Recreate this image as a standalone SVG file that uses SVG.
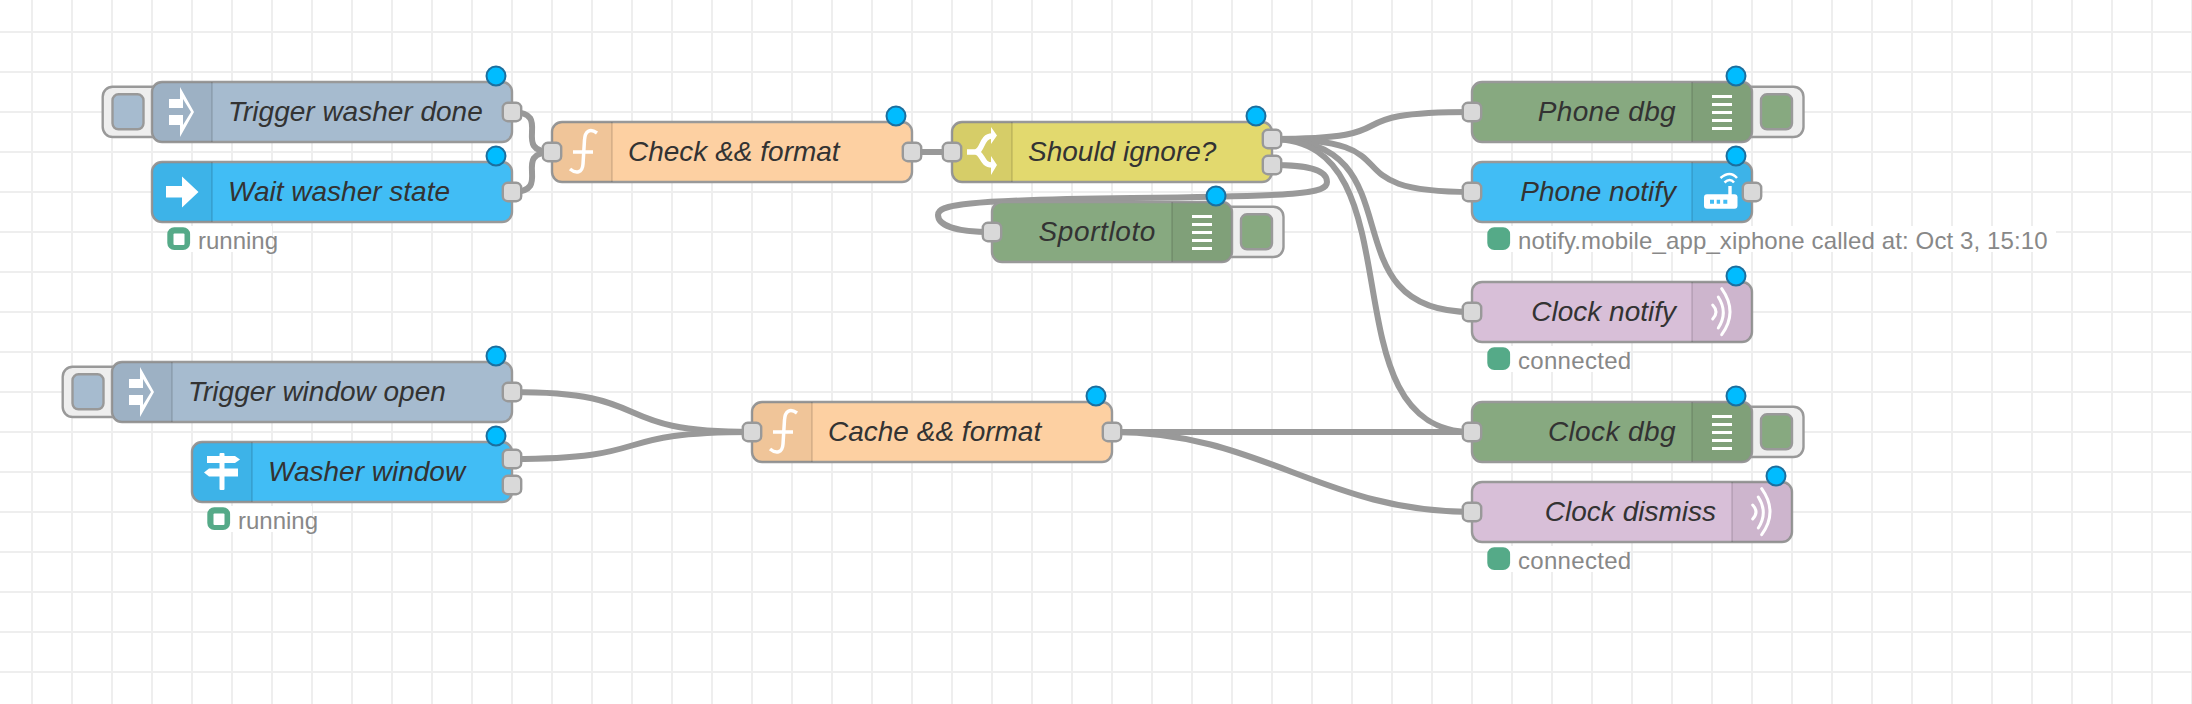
<svg xmlns="http://www.w3.org/2000/svg" xmlns:xlink="http://www.w3.org/1999/xlink" width="2192" height="704" viewBox="0 0 2192 704">
<style>
.n{stroke:#999;stroke-width:2.4}
.ic{fill:#000;fill-opacity:.05}
.sep{fill:#000;fill-opacity:.1}
.p{fill:#d9d9d9;stroke:#999;stroke-width:2.4}
.b{fill:#00bcff;stroke:#1c6f9e;stroke-width:2}
.btn{fill:#eee;stroke:#999;stroke-width:2.4}
.t{font-family:"Liberation Sans",Arial,sans-serif;font-size:28px;font-style:italic;fill:#333}
.s{font-family:"Liberation Sans",Arial,sans-serif;font-size:24px;fill:#888}
.st{fill:#5a8;stroke:#5a8;stroke-width:2}
.w{fill:#fff}
.wl{fill:none;stroke:#fff;stroke-width:3.5}
.grey{fill:#a6bbcf}.blue{fill:#41bdf5}.fn{fill:#fdd0a2}.sw{fill:#e2d96e}.dbg{fill:#87a980}.ws{fill:#d8bfd8}
#wires path{fill:none;stroke:#999;stroke-width:6}
</style>
<defs>
<pattern id="grid" patternUnits="userSpaceOnUse" width="40" height="40"><rect x="31" width="2" height="40" fill="#eee"/><rect y="31" width="40" height="2" fill="#eee"/></pattern>
<g id="i-trigger"><rect class="w" x="17" y="17" width="14" height="9"/><rect class="w" x="17" y="33" width="14" height="10"/><path class="w" d="M28 5L42 30L28 55V43H31L39 30L31 17H28Z"/></g>
<path id="i-arrow" class="w" d="M14 24H30V14.500L46.500 30L30 45.500V35.500H14Z"/>
<path id="i-fn" class="wl" d="M45 11C38 6 33 9 32.500 18L31 42C30.500 51 24 52 18 47M21 30H41"/>
<g id="i-switch"><path class="wl" style="stroke-width:5.500" d="M15 30H23C31 30 29 14 40 14M23 30C31 30 29 43 40 43"/><path class="w" d="M39 5L45 13.500L39 22ZM39 34L45 43L39 53Z"/></g>
<g id="i-debug"><rect class="w" x="-10" y="13" width="20" height="3"/><rect class="w" x="-10" y="21" width="20" height="3"/><rect class="w" x="-10" y="29" width="20" height="3"/><rect class="w" x="-10" y="37" width="20" height="3"/><rect class="w" x="-10" y="45" width="20" height="3"/></g>
<g id="i-wave"><path class="wl" style="stroke-width:3" d="M-9.300 23Q-2.700 30 -9.300 37M-3.700 15Q6.300 30.500 -3.700 46M-.3 6.700Q16.300 30 -.3 52.700" stroke-linecap="round"/></g>
<g id="i-router"><rect class="w" x="-18" y="32.300" width="33.500" height="14.500" rx="3"/><rect class="w" x="6.300" y="24" width="3.400" height="9"/><path d="M-12 37.700h4v4h-4zM-5.300 37.700h3.400v4h-3.400zM1.300 37.700h4v4h-4z" fill="#41bdf5"/><path class="wl" style="stroke-width:2.500" d="M2.500 20.500Q8 15.500 12 20.500M-1.500 16Q8 8 15 16"/></g>
<g id="i-sign"><rect class="w" x="27.500" y="11" width="5" height="37" rx="1"/><path class="w" d="M15 14H43L48 17.500L43 21H15Z"/><path class="w" d="M17 26.500H46V34.500H17L12 30.500Z"/></g>
</defs>
<rect width="2192" height="704" fill="#fff"/>
<rect id="canvas-grid" width="2192" height="704" fill="url(#grid)"/>
<g id="wires">
<path d="M512 112C554.400 112 509.600 152 552 152"/>
<path d="M512 192C554.400 192 509.600 152 552 152"/>
<path d="M912 152H952"/>
<path d="M1272 139C1422 139 1322 112 1472 112"/>
<path d="M1272 139C1422 139 1322 192 1472 192"/>
<path d="M1272 139C1422 139 1322 312 1472 312"/>
<path d="M1272 139C1422 139 1322 432 1472 432"/>
<path d="M1272 165C1310 165 1327 170 1327 182C1327 194 1300 196 1132 198C960 200 938 205 938 215C938 225 955 232 992 232"/>
<path d="M512 392C662 392 602 432 752 432"/>
<path d="M512 459C662 459 602 432 752 432"/>
<path d="M1112 432H1472"/>
<path d="M1112 432C1262 432 1322 512 1472 512"/>
</g>
<g id="trigger-washer-done" transform="translate(152 82)">
<rect class="btn" x="-49.300" y="4.700" width="60" height="50.300" rx="10"/><rect class="n grey" x="-39.500" y="12.300" width="31" height="35" rx="6"/>
<rect class="n grey" width="360" height="60" rx="10"/><path class="ic" d="M10 0H60V60H10A10 10 0 0 1 0 50V10A10 10 0 0 1 10 0Z"/><rect class="sep" x="59" width="2" height="60"/>
<use href="#i-trigger"/>
<text class="t" x="76" y="39">Trigger washer done</text>
<rect class="p" x="350.800" y="20.800" width="18.400" height="18.400" rx="5"/><circle class="b" cx="344" cy="-6" r="9.500"/>
</g>
<g id="wait-washer-state" transform="translate(152 162)">
<rect class="n blue" width="360" height="60" rx="10"/><path class="ic" d="M10 0H60V60H10A10 10 0 0 1 0 50V10A10 10 0 0 1 10 0Z"/><rect class="sep" x="59" width="2" height="60"/>
<use href="#i-arrow"/>
<text class="t" x="76" y="39">Wait washer state</text>
<rect class="p" x="350.800" y="20.800" width="18.400" height="18.400" rx="5"/><circle class="b" cx="344" cy="-6" r="9.500"/>
<rect class="w" x="38" y="64" width="82" height="26"/><rect class="st" x="16.300" y="66.300" width="20.800" height="20.800" rx="6"/><rect class="w" x="21.500" y="71.500" width="11" height="11.500" rx="1"/><text class="s" x="46" y="86.500">running</text>
</g>
<g id="check-format" transform="translate(552 122)">
<rect class="n fn" width="360" height="60" rx="10"/><path class="ic" d="M10 0H60V60H10A10 10 0 0 1 0 50V10A10 10 0 0 1 10 0Z"/><rect class="sep" x="59" width="2" height="60"/>
<use href="#i-fn"/>
<text class="t" x="76" y="39">Check &amp;&amp; format</text>
<rect class="p" x="-9.200" y="20.800" width="18.400" height="18.400" rx="5"/><rect class="p" x="350.800" y="20.800" width="18.400" height="18.400" rx="5"/><circle class="b" cx="344" cy="-6" r="9.500"/>
</g>
<g id="should-ignore" transform="translate(952 122)">
<rect class="n sw" width="320" height="60" rx="10"/><path class="ic" d="M10 0H60V60H10A10 10 0 0 1 0 50V10A10 10 0 0 1 10 0Z"/><rect class="sep" x="59" width="2" height="60"/>
<use href="#i-switch"/>
<text class="t" x="76" y="39">Should ignore?</text>
<rect class="p" x="-9.200" y="20.800" width="18.400" height="18.400" rx="5"/><rect class="p" x="310.800" y="7.800" width="18.400" height="18.400" rx="5"/><rect class="p" x="310.800" y="33.800" width="18.400" height="18.400" rx="5"/><circle class="b" cx="304" cy="-6" r="9.500"/>
</g>
<g id="sportloto" transform="translate(992 202)">
<rect class="btn" x="230" y="4.700" width="61.500" height="50.300" rx="10"/><rect class="n dbg" x="249" y="12.300" width="31" height="35" rx="6"/>
<rect class="n dbg" width="240" height="60" rx="10"/><path class="ic" d="M180 0H230A10 10 0 0 1 240 10V50A10 10 0 0 1 230 60H180Z"/><rect class="sep" x="179" width="2" height="60"/>
<use href="#i-debug" x="210"/>
<text class="t" x="164" y="39" text-anchor="end" letter-spacing=".6">Sportloto</text>
<rect class="p" x="-9.200" y="20.800" width="18.400" height="18.400" rx="5"/><circle class="b" cx="224" cy="-6" r="9.500"/>
</g>
<g id="phone-dbg" transform="translate(1472 82)">
<rect class="btn" x="270" y="4.700" width="61.500" height="50.300" rx="10"/><rect class="n dbg" x="289" y="12.300" width="31" height="35" rx="6"/>
<rect class="n dbg" width="280" height="60" rx="10"/><path class="ic" d="M220 0H270A10 10 0 0 1 280 10V50A10 10 0 0 1 270 60H220Z"/><rect class="sep" x="219" width="2" height="60"/>
<use href="#i-debug" x="250"/>
<text class="t" x="204" y="39" text-anchor="end" letter-spacing=".3">Phone dbg</text>
<rect class="p" x="-9.200" y="20.800" width="18.400" height="18.400" rx="5"/><circle class="b" cx="264" cy="-6" r="9.500"/>
</g>
<g id="phone-notify" transform="translate(1472 162)">
<rect class="n blue" width="280" height="60" rx="10"/><path class="ic" d="M220 0H270A10 10 0 0 1 280 10V50A10 10 0 0 1 270 60H220Z"/><rect class="sep" x="219" width="2" height="60"/>
<use href="#i-router" x="250"/>
<text class="t" x="204" y="39" text-anchor="end">Phone notify</text>
<rect class="p" x="-9.200" y="20.800" width="18.400" height="18.400" rx="5"/><rect class="p" x="270.800" y="20.800" width="18.400" height="18.400" rx="5"/><circle class="b" cx="264" cy="-6" r="9.500"/>
<rect class="w" x="38" y="64" width="546" height="26"/><rect class="st" x="16.300" y="66.300" width="20.800" height="20.800" rx="6"/><text class="s" x="46" y="86.500" letter-spacing=".12">notify.mobile_app_xiphone called at: Oct 3, 15:10</text>
</g>
<g id="clock-notify" transform="translate(1472 282)">
<rect class="n ws" width="280" height="60" rx="10"/><path class="ic" d="M220 0H270A10 10 0 0 1 280 10V50A10 10 0 0 1 270 60H220Z"/><rect class="sep" x="219" width="2" height="60"/>
<use href="#i-wave" x="250"/>
<text class="t" x="204" y="39" text-anchor="end">Clock notify</text>
<rect class="p" x="-9.200" y="20.800" width="18.400" height="18.400" rx="5"/><circle class="b" cx="264" cy="-6" r="9.500"/>
<rect class="w" x="38" y="64" width="114" height="26"/><rect class="st" x="16.300" y="66.300" width="20.800" height="20.800" rx="6"/><text class="s" x="46" y="86.500" letter-spacing=".3">connected</text>
</g>
<g id="trigger-window-open" transform="translate(112 362)">
<rect class="btn" x="-49.300" y="4.700" width="60" height="50.300" rx="10"/><rect class="n grey" x="-39.500" y="12.300" width="31" height="35" rx="6"/>
<rect class="n grey" width="400" height="60" rx="10"/><path class="ic" d="M10 0H60V60H10A10 10 0 0 1 0 50V10A10 10 0 0 1 10 0Z"/><rect class="sep" x="59" width="2" height="60"/>
<use href="#i-trigger"/>
<text class="t" x="76" y="39">Trigger window open</text>
<rect class="p" x="390.800" y="20.800" width="18.400" height="18.400" rx="5"/><circle class="b" cx="384" cy="-6" r="9.500"/>
</g>
<g id="washer-window" transform="translate(192 442)">
<rect class="n blue" width="320" height="60" rx="10"/><path class="ic" d="M10 0H60V60H10A10 10 0 0 1 0 50V10A10 10 0 0 1 10 0Z"/><rect class="sep" x="59" width="2" height="60"/>
<use href="#i-sign"/>
<text class="t" x="76" y="39">Washer window</text>
<rect class="p" x="310.800" y="7.800" width="18.400" height="18.400" rx="5"/><rect class="p" x="310.800" y="33.800" width="18.400" height="18.400" rx="5"/><circle class="b" cx="304" cy="-6" r="9.500"/>
<rect class="w" x="38" y="64" width="82" height="26"/><rect class="st" x="16.300" y="66.300" width="20.800" height="20.800" rx="6"/><rect class="w" x="21.500" y="71.500" width="11" height="11.500" rx="1"/><text class="s" x="46" y="86.500">running</text>
</g>
<g id="cache-format" transform="translate(752 402)">
<rect class="n fn" width="360" height="60" rx="10"/><path class="ic" d="M10 0H60V60H10A10 10 0 0 1 0 50V10A10 10 0 0 1 10 0Z"/><rect class="sep" x="59" width="2" height="60"/>
<use href="#i-fn"/>
<text class="t" x="76" y="39">Cache &amp;&amp; format</text>
<rect class="p" x="-9.200" y="20.800" width="18.400" height="18.400" rx="5"/><rect class="p" x="350.800" y="20.800" width="18.400" height="18.400" rx="5"/><circle class="b" cx="344" cy="-6" r="9.500"/>
</g>
<g id="clock-dbg" transform="translate(1472 402)">
<rect class="btn" x="270" y="4.700" width="61.500" height="50.300" rx="10"/><rect class="n dbg" x="289" y="12.300" width="31" height="35" rx="6"/>
<rect class="n dbg" width="280" height="60" rx="10"/><path class="ic" d="M220 0H270A10 10 0 0 1 280 10V50A10 10 0 0 1 270 60H220Z"/><rect class="sep" x="219" width="2" height="60"/>
<use href="#i-debug" x="250"/>
<text class="t" x="204" y="39" text-anchor="end" letter-spacing=".4">Clock dbg</text>
<rect class="p" x="-9.200" y="20.800" width="18.400" height="18.400" rx="5"/><circle class="b" cx="264" cy="-6" r="9.500"/>
</g>
<g id="clock-dismiss" transform="translate(1472 482)">
<rect class="n ws" width="320" height="60" rx="10"/><path class="ic" d="M260 0H310A10 10 0 0 1 320 10V50A10 10 0 0 1 310 60H260Z"/><rect class="sep" x="259" width="2" height="60"/>
<use href="#i-wave" x="290"/>
<text class="t" x="244" y="39" text-anchor="end">Clock dismiss</text>
<rect class="p" x="-9.200" y="20.800" width="18.400" height="18.400" rx="5"/><circle class="b" cx="304" cy="-6" r="9.500"/>
<rect class="w" x="38" y="64" width="114" height="26"/><rect class="st" x="16.300" y="66.300" width="20.800" height="20.800" rx="6"/><text class="s" x="46" y="86.500" letter-spacing=".3">connected</text>
</g>
</svg>
